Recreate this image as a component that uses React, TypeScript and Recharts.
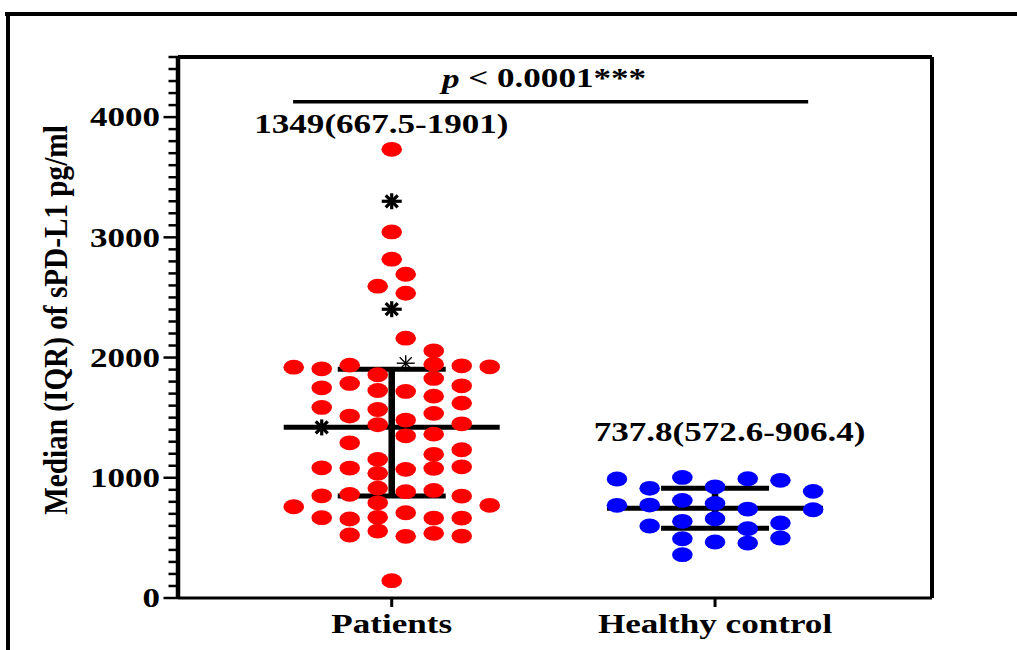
import React from 'react';
import {
  ScatterChart,
  Scatter,
  XAxis,
  YAxis,
  ReferenceLine,
} from 'recharts';

// categories on the x axis (numeric positions 1 and 2)
const CATEGORIES = ['Patients', 'Healthy control'];
const CATEGORY_X = [1, 2];

// dots as [column offset, value]; columns are spread around the category centre
const PATIENT_STEP = 0.0433;
const CONTROL_STEP = 0.1011;

const patientDots: [number, number][] = [
  [0, 3732], [0, 3045], [0, 2818], [1, 2693], [-1, 2594], [1, 2535], [1, 2161], [3, 2056],
  [-7, 1920], [-5, 1906], [-3, 1937], [3, 1945], [5, 1931], [7, 1923],
  [-1, 1857], [-5, 1748], [-3, 1785], [-1, 1726], [1, 1718], [3, 1826], [5, 1765],
  [3, 1679], [5, 1621], [-5, 1585], [-3, 1513], [-1, 1568], [3, 1535],
  [-1, 1441], [1, 1480], [5, 1449], [1, 1349], [3, 1363], [-3, 1291], [5, 1233],
  [-1, 1153], [3, 1195], [-5, 1083], [-3, 1081], [-1, 1037], [1, 1070], [3, 1078], [5, 1091],
  [-1, 914], [1, 884], [3, 895], [-5, 850], [-3, 862], [5, 848],
  [-7, 759], [7, 771], [-1, 792],
  [-5, 668], [-3, 657], [-1, 671], [1, 709], [3, 665], [5, 665],
  [-3, 524], [-1, 557], [1, 513], [3, 538], [5, 515], [0, 144],
];

// outliers drawn as black asterisks
const patientStarsBold: [number, number][] = [[0, 3300], [0, 2402], [-5, 1419]];
const patientStarsThin: [number, number][] = [[1, 1953]];

const controlDots: [number, number][] = [
  [-3, 990], [-2, 912], [-1, 1003], [0, 925], [1, 992], [2, 979], [3, 887],
  [-3, 771], [-2, 773], [-1, 812], [0, 787], [1, 740], [3, 734],
  [-2, 599], [-1, 638], [0, 659], [1, 576], [2, 624],
  [-1, 493], [0, 466], [1, 457], [2, 499], [-1, 360],
];

// median and IQR lines as drawn
const patientStats = { median: 1420, q1: 848, q3: 1902 };
const controlStats = { median: 746, q1: 580, q3: 912 };

const annotations = [
  { x: 0.968, y: 3943, text: '1349(667.5-1901)' },
  { x: 2.045, y: 1381, text: '737.8(572.6-906.4)' },
];
const SIG_Y = 4128;
const SIG_X = [0.695, 2.288];
const SIG_LABEL = { x: 1.471, y: 4325 };

const Y_TICKS = Array.from({ length: 46 }, (_, i) => i * 100);
const X_DOMAIN = [0.339, 2.671];

const FONT = "'Liberation Serif', 'Times New Roman', serif";
const SX = 1.3;

const StretchText = ({ x, y, children, anchor = 'middle', size = 27, sx = SX, rotate = 0 }: any) => (
  <g transform={`translate(${x},${y}) rotate(${rotate}) scale(${sx},1)`}>
    <text
      x={0}
      y={0}
      textAnchor={anchor}
      dominantBaseline="central"
      fontFamily={FONT}
      fontWeight="bold"
      fontSize={size}
      fill="#000"
    >
      {children}
    </text>
  </g>
);

const toPoints = (list: [number, number][], centre: number, step: number) =>
  list.map(([c, v]) => ({ x: centre + c * step, y: v }));

const Ellipse = (color: string) => (props: any) => (
  <ellipse cx={props.cx} cy={props.cy} rx={10.3} ry={7.4} fill={color} />
);

const Star = (bold: boolean) => (props: any) => {
  const { cx, cy } = props;
  const w = bold ? 3.2 : 1.4;
  const h = bold ? 10 : 9;
  return (
    <g stroke="#000" strokeWidth={w}>
      <line x1={cx - h} y1={cy} x2={cx + h} y2={cy} />
      <line x1={cx} y1={cy - 8} x2={cx} y2={cy + 8} />
      <line x1={cx - 6} y1={cy - 6} x2={cx + 6} y2={cy + 6} />
      <line x1={cx - 6} y1={cy + 6} x2={cx + 6} y2={cy - 6} />
    </g>
  );
};

const Nothing = () => <g />;

const segmentsFor = (centre: number, s: { median: number; q1: number; q3: number }) => [
  { pts: [{ x: centre - 0.334, y: s.median }, { x: centre + 0.334, y: s.median }], w: 5 },
  { pts: [{ x: centre - 0.167, y: s.q3 }, { x: centre + 0.167, y: s.q3 }], w: 5 },
  { pts: [{ x: centre - 0.167, y: s.q1 }, { x: centre + 0.167, y: s.q1 }], w: 5 },
  { pts: [{ x: centre, y: s.q1 }, { x: centre, y: s.q3 }], w: 6.5 },
];

const YTick = ({ x, y, payload }: any) => {
  const v = payload.value;
  if (v % 1000 === 0) {
    return (
      <g>
        <line x1={x - 14.5} y1={y} x2={x} y2={y} stroke="#000" strokeWidth={2.5} />
        <StretchText x={x - 18} y={y} anchor="end" size={28} sx={1.25}>{v}</StretchText>
      </g>
    );
  }
  return <line x1={x - 9.5} y1={y} x2={x} y2={y} stroke="#000" strokeWidth={2.5} />;
};

const XTick = ({ x, y, payload }: any) => (
  <StretchText x={x} y={y + 15}>{CATEGORIES[CATEGORY_X.indexOf(payload.value)]}</StretchText>
);

const YTitle = () => (
  <StretchText x={56} y={320} rotate={-90} size={33} sx={0.886}>Median (IQR) of sPD-L1 pg/ml</StretchText>
);

export default function App() {
  const segments = [
    ...segmentsFor(CATEGORY_X[0], patientStats),
    ...segmentsFor(CATEGORY_X[1], controlStats),
  ];

  return (
    <div style={{ position: 'absolute', left: 0, top: 0, width: 1017, height: 650, background: '#fff' }}>
      <div style={{ position: 'absolute', left: 5, top: 12, width: 1012, height: 4, background: '#000' }} />
      <div style={{ position: 'absolute', left: 6, top: 12, width: 4, height: 638, background: '#000' }} />
      <div style={{ position: 'absolute', left: 0, top: 0 }}>
        <ScatterChart width={1017} height={650} margin={{ top: 57, right: 85, left: 0, bottom: 0 }}>
          <XAxis
            dataKey="x"
            type="number"
            domain={X_DOMAIN}
            ticks={CATEGORY_X}
            allowDataOverflow
            height={52}
            axisLine={{ stroke: '#000', strokeWidth: 3 }}
            tickLine={{ stroke: '#000', strokeWidth: 3 }}
            tickSize={9}
            tick={<XTick />}
          />
          <YAxis
            dataKey="y"
            type="number"
            domain={[0, 4500]}
            ticks={Y_TICKS}
            interval={0}
            allowDataOverflow
            width={178}
            axisLine={{ stroke: '#000', strokeWidth: 4.5 }}
            tickLine={false}
            tickSize={0}
            tickMargin={0}
            tick={<YTick />}
            label={<YTitle />}
          />
          <ReferenceLine y={4500} stroke="#000" strokeWidth={4} />
          <ReferenceLine x={X_DOMAIN[1]} stroke="#000" strokeWidth={4} />
          <ReferenceLine
            segment={[{ x: SIG_X[0], y: SIG_Y }, { x: SIG_X[1], y: SIG_Y }]}
            stroke="#000"
            strokeWidth={3.5}
          />
          {segments.map((s, i) => (
            <Scatter
              key={`seg-${i}`}
              data={s.pts}
              fill="#000"
              line={{ stroke: '#000', strokeWidth: s.w }}
              shape={Nothing}
              isAnimationActive={false}
            />
          ))}
          <Scatter
            data={toPoints(patientDots, CATEGORY_X[0], PATIENT_STEP)}
            shape={Ellipse('#FF0000')}
            isAnimationActive={false}
          />
          <Scatter
            data={toPoints(patientStarsBold, CATEGORY_X[0], PATIENT_STEP)}
            shape={Star(true)}
            isAnimationActive={false}
          />
          <Scatter
            data={toPoints(patientStarsThin, CATEGORY_X[0], PATIENT_STEP)}
            shape={Star(false)}
            isAnimationActive={false}
          />
          <Scatter
            data={toPoints(controlDots, CATEGORY_X[1], CONTROL_STEP)}
            shape={Ellipse('#0000FF')}
            isAnimationActive={false}
          />
          {annotations.map((a, i) => (
            <Scatter
              key={`ann-${i}`}
              data={[{ x: a.x, y: a.y }]}
              shape={(p: any) => <StretchText x={p.cx} y={p.cy}>{a.text}</StretchText>}
              isAnimationActive={false}
            />
          ))}
          <Scatter
            data={[SIG_LABEL]}
            shape={(p: any) => (
              <StretchText x={p.cx} y={p.cy}>
                <tspan fontStyle="italic">p</tspan>
                {' < 0.0001***'}
              </StretchText>
            )}
            isAnimationActive={false}
          />
        </ScatterChart>
      </div>
    </div>
  );
}
